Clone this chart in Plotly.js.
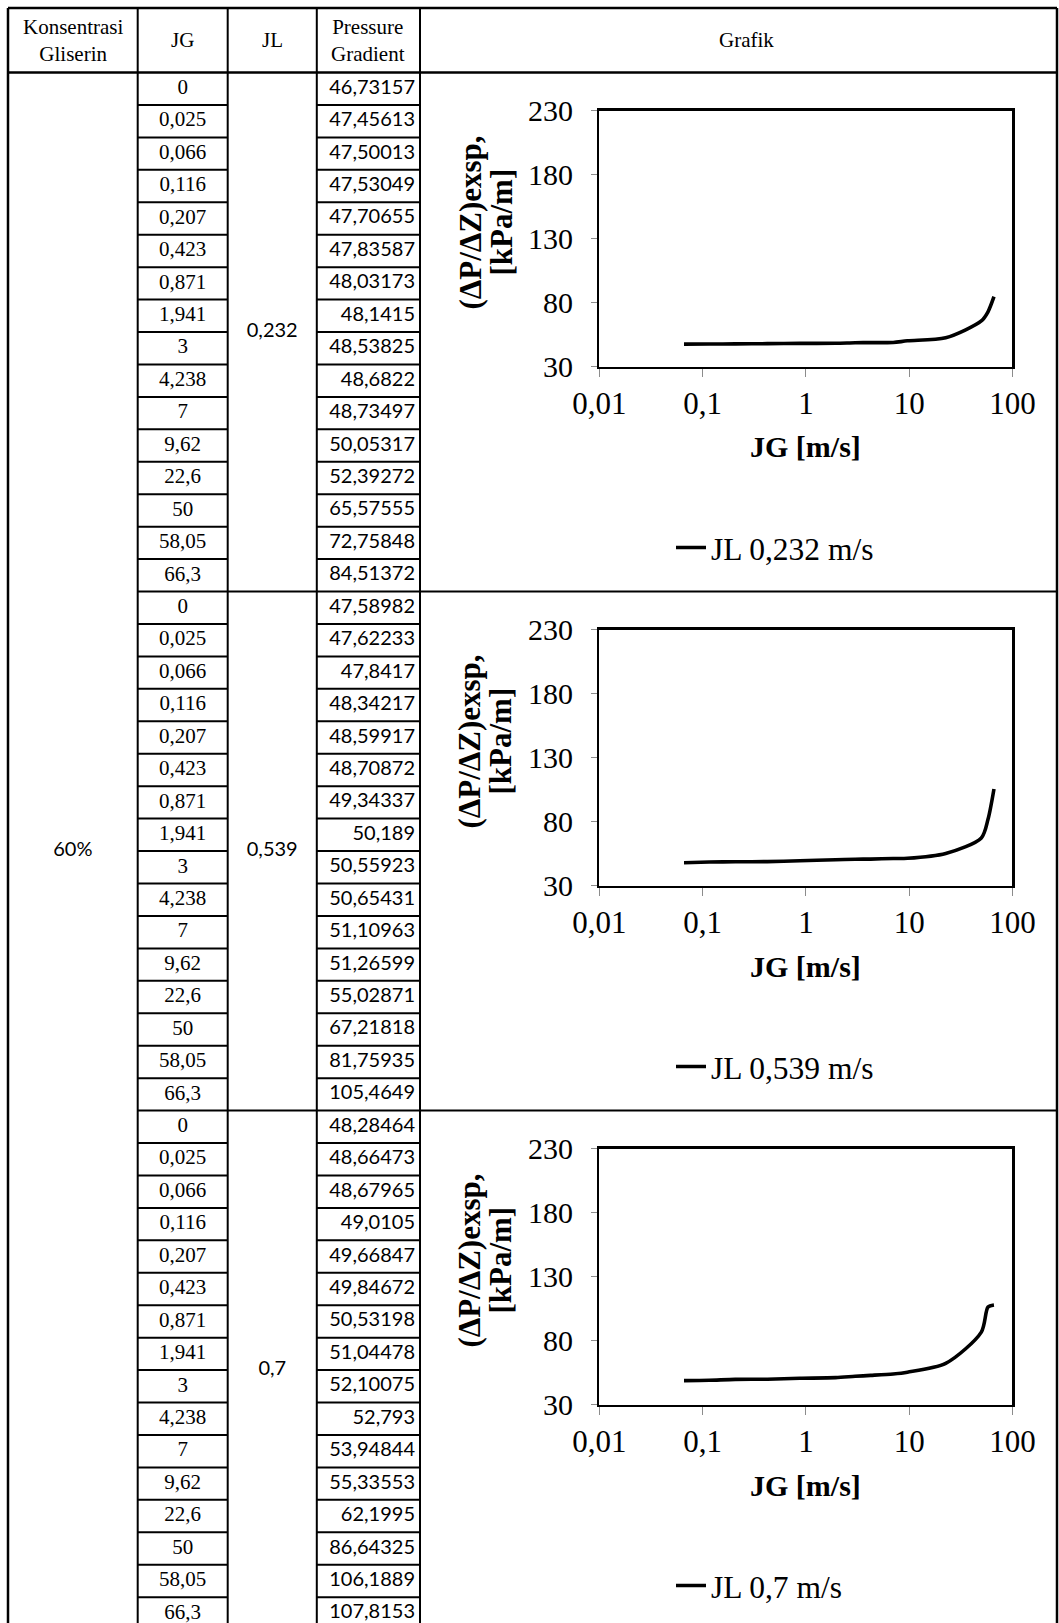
<!DOCTYPE html>
<html>
<head>
<meta charset="utf-8">
<script src="https://cdn.plot.ly/plotly-3.0.1.min.js"></script>
<style>html,body{margin:0;padding:0;background:#fff;}#chart{width:1059px;height:1623px;}</style>
</head>
<body>
<div id="chart"></div>
<script>
// ---------------- DATA ----------------
const konsentrasi = "60%";
const jgValues = [0, 0.025, 0.066, 0.116, 0.207, 0.423, 0.871, 1.941, 3, 4.238, 7, 9.62, 22.6, 50, 58.05, 66.3];
const jlValues = [0.232, 0.539, 0.7];
const pg232 = [46.73157, 47.45613, 47.50013, 47.53049, 47.70655, 47.83587, 48.03173, 48.1415, 48.53825, 48.6822, 48.73497, 50.05317, 52.39272, 65.57555, 72.75848, 84.51372];
const pg539 = [47.58982, 47.62233, 47.8417, 48.34217, 48.59917, 48.70872, 49.34337, 50.189, 50.55923, 50.65431, 51.10963, 51.26599, 55.02871, 67.21818, 81.75935, 105.4649];
const pg700 = [48.28464, 48.66473, 48.67965, 49.0105, 49.66847, 49.84672, 50.53198, 51.04478, 52.10075, 52.793, 53.94844, 55.33553, 62.1995, 86.64325, 106.1889, 107.8153];
const pgSeries = [pg232, pg539, pg700];
const headerTexts = ["Konsentrasi<br>Gliserin", "JG", "JL", "Pressure<br>Gradient", "Grafik"];
const xTickVals = [0.01, 0.1, 1, 10, 100];
const xTickText = ["0,01", "0,1", "1", "10", "100"];
const yTickVals = [30, 80, 130, 180, 230];
const chartFirstRow = 2; // the graphs start from JG = 0,066
// --------------------------------------

const fmt = v => String(v).replace('.', ',');

// layout geometry (pixels)
const W = 1059, H = 1623;
const BODY_TOP = 72.5, ROW_H = 32.44;
const colX = [8, 137.7, 227.7, 316.8, 420, 1057];
const headX = [72.8, 182.7, 272.2, 368.4, 746];
const nRows = jgValues.length * jlValues.length;
const yTop = -BODY_TOP / ROW_H, yBot = (H - BODY_TOP) / ROW_H;
const headTop = (8 - BODY_TOP) / ROW_H;

const serif = "Liberation Serif, Times New Roman, serif";
const calib = "Lato, Carlito, Calibri, sans-serif";

const traces = [];
const shapes = [];
const annotations = [];

// ---- table text ----
const jgX = [], jgY = [], jgT = [], pgX = [], pgY = [], pgT = [];
jlValues.forEach((jl, k) => {
  jgValues.forEach((jg, i) => {
    const r = k * jgValues.length + i;
    jgX.push((colX[1] + colX[2]) / 2); jgY.push(r + 0.5); jgT.push(fmt(jg));
    pgX.push(colX[4] - 5); pgY.push(r + 0.5); pgT.push(fmt(pgSeries[k][i]));
  });
});
traces.push({type: 'scatter', mode: 'text', x: jgX, y: jgY, text: jgT, xaxis: 'x4', yaxis: 'y4',
  textposition: 'middle center', textfont: {family: serif, size: 21, color: '#000'}, showlegend: false, hoverinfo: 'skip', cliponaxis: false});
traces.push({type: 'scatter', mode: 'text', x: pgX, y: pgY, text: pgT, xaxis: 'x4', yaxis: 'y4',
  textposition: 'middle left', textfont: {family: calib, size: 20, color: '#000'}, showlegend: false, hoverinfo: 'skip', cliponaxis: false});
traces.push({type: 'scatter', mode: 'text',
  x: jlValues.map(() => (colX[2] + colX[3]) / 2),
  y: jlValues.map((_, k) => k * jgValues.length + jgValues.length / 2),
  text: jlValues.map(fmt), xaxis: 'x4', yaxis: 'y4',
  textposition: 'middle center', textfont: {family: calib, size: 20, color: '#000'}, showlegend: false, hoverinfo: 'skip', cliponaxis: false});
traces.push({type: 'scatter', mode: 'text', x: [(colX[0] + colX[1]) / 2], y: [nRows / 2], text: [konsentrasi],
  xaxis: 'x4', yaxis: 'y4', textposition: 'middle center', textfont: {family: calib, size: 20, color: '#000'},
  showlegend: false, hoverinfo: 'skip', cliponaxis: false});

// header
headerTexts.forEach((t, c) => {
  annotations.push({xref: 'x4', yref: 'y4', x: headX[c], y: headTop / 2, text: t, showarrow: false,
    xanchor: 'center', yanchor: 'middle', font: {family: serif, size: 21, color: '#000'}});
});

// table lines
const L = (x0, y0, x1, y1, w) => shapes.push({type: 'line', xref: 'x4', yref: 'y4', x0, y0, x1, y1, line: {color: '#000', width: w}});
colX.forEach((x, c) => L(x, headTop, x, yBot + 1, (c === 0 || c === colX.length - 1) ? 2.5 : 2));
L(colX[0], headTop, colX[5], headTop, 2.5);
L(colX[0], 0, colX[5], 0, 2.5);
for (let r = 1; r <= nRows; r++) {
  L(colX[1], r, colX[2], r, 2);
  L(colX[3], r, colX[4], r, 2);
}
for (let k = 1; k < jlValues.length; k++) {
  const r = k * jgValues.length;
  L(colX[2], r, colX[3], r, 2);
  L(colX[4], r, colX[5], r, 2);
}

// ---- charts ----
const layout = {
  width: W, height: H, margin: {l: 0, r: 0, t: 0, b: 0},
  paper_bgcolor: '#fff', plot_bgcolor: 'rgba(0,0,0,0)', showlegend: true,
  xaxis4: {domain: [0, 1], range: [0, W], visible: false, fixedrange: true},
  yaxis4: {domain: [0, 1], range: [yBot, yTop], visible: false, fixedrange: true},
  shapes, annotations
};

const plotL = 599.4, plotR = 1012.4, plotTopOff = 38, plotH = 256;
jlValues.forEach((jl, k) => {
  const n = k === 0 ? '' : String(k + 1);
  const secTop = BODY_TOP + k * jgValues.length * ROW_H;
  const top = secTop + plotTopOff, bot = top + plotH;
  const legName = k === 0 ? 'legend' : 'legend' + (k + 1);
  traces.push({
    type: 'scatter', mode: 'lines', name: 'JL ' + fmt(jl) + ' m/s',
    x: jgValues.slice(chartFirstRow), y: pgSeries[k].slice(chartFirstRow),
    xaxis: 'x' + n, yaxis: 'y' + n, legend: legName,
    line: {color: '#000', width: 3.6, shape: 'spline', smoothing: 0.8}, hoverinfo: 'x+y'
  });
  layout['xaxis' + n] = {
    type: 'log', domain: [plotL / W, plotR / W], range: [-2, 2], anchor: 'y' + n,
    tickvals: xTickVals, ticktext: xTickText, ticks: 'outside', ticklen: 8, tickwidth: 1, tickcolor: '#8c8c8c',
    ticklabelstandoff: 0,
    showline: true, linecolor: '#000', linewidth: 2.5, mirror: true, showgrid: false, zeroline: false,
    tickfont: {family: serif, size: 31, color: '#000'}, fixedrange: true
  };
  layout['yaxis' + n] = {
    domain: [1 - bot / H, 1 - top / H], range: [30, 230], anchor: 'x' + n,
    tickvals: yTickVals, ticks: 'outside', ticklen: 6, tickwidth: 1, tickcolor: '#8c8c8c',
    ticklabelstandoff: 12,
    showline: true, linecolor: '#000', linewidth: 2.5, mirror: true, showgrid: false, zeroline: false,
    tickfont: {family: serif, size: 30, color: '#000'}, fixedrange: true
  };
  // axis titles
  annotations.push({xref: 'x' + n + ' domain', yref: 'y' + n + ' domain', x: 0.5, y: 0, yshift: -80.5,
    text: '<b>JG [m/s]</b>', showarrow: false, xanchor: 'center', yanchor: 'middle',
    font: {family: serif, size: 30, color: '#000'}});
  const titleY = 1 - 112 / plotH;
  annotations.push({xref: 'paper', yref: 'y' + n + ' domain', x: 470 / W, y: titleY,
    text: '<b>(ΔP/ΔZ)exsp,</b>', showarrow: false, textangle: -90, xanchor: 'center', yanchor: 'middle',
    font: {family: serif, size: 31, color: '#000'}});
  annotations.push({xref: 'paper', yref: 'y' + n + ' domain', x: 501 / W, y: titleY,
    text: '<b>[kPa/m]</b>', showarrow: false, textangle: -90, xanchor: 'center', yanchor: 'middle',
    font: {family: serif, size: 31, color: '#000'}});
  layout[legName] = {
    x: 671 / W, y: 1 - (secTop + 475) / H, xanchor: 'left', yanchor: 'middle',
    bgcolor: 'rgba(0,0,0,0)', borderwidth: 0, font: {family: serif, size: 31.5, color: '#000'}
  };
});

Plotly.newPlot('chart', traces, layout, {displayModeBar: false, staticPlot: true});
</script>
</body>
</html>
